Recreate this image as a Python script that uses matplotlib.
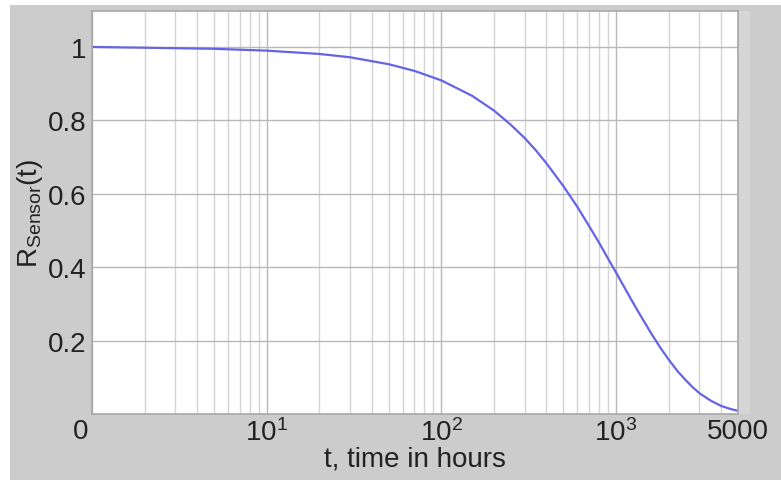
import matplotlib
matplotlib.use('Agg')
import matplotlib.pyplot as plt
import matplotlib.transforms as mtransforms
from matplotlib.patches import Rectangle

plt.rcParams['font.family'] = ['Liberation Sans', 'DejaVu Sans']

# values
t_hours = [1, 2, 5, 10, 20, 30, 50, 70, 100, 150, 200, 250, 300, 350, 400, 500, 600, 700,
           800, 900, 1000, 1100, 1200, 1300, 1400, 1600, 1800, 2000, 2250, 2500, 2750,
           3000, 3500, 4000, 4500, 5000]
r_sensor = [1.0, 0.998, 0.995, 0.990, 0.981, 0.972, 0.953, 0.935, 0.909, 0.867,
            0.827, 0.788, 0.752, 0.717, 0.683, 0.621, 0.565, 0.513, 0.467, 0.424,
            0.386, 0.351, 0.319, 0.290, 0.264, 0.218, 0.180, 0.149, 0.117, 0.093,
            0.073, 0.057, 0.036, 0.022, 0.014, 0.0086]

x_ticks = [1, 10, 100, 1000, 5000]
x_ticklabels = ['0', r'$\mathregular{10^1}$', r'$\mathregular{10^2}$', r'$\mathregular{10^3}$', '5000']
y_ticks = [0.2, 0.4, 0.6, 0.8, 1]
y_ticklabels = ['0.2', '0.4', '0.6', '0.8', '1']

fig = plt.figure(figsize=(7.81, 4.81), dpi=100, facecolor='#cccccc')
# white border strips of the original screenshot
fig.patches.append(Rectangle((0, 0), 10 / 781, 1, transform=fig.transFigure,
                             facecolor='white', edgecolor='none', zorder=0))
fig.patches.append(Rectangle((0, 1 - 6 / 481), 1, 6 / 481, transform=fig.transFigure,
                             facecolor='white', edgecolor='none', zorder=0))
fig.patches.append(Rectangle((738 / 781, 66 / 481), 12 / 781, 403 / 481, transform=fig.transFigure,
                             facecolor='#d6d6d6', edgecolor='none', zorder=0))

ax = fig.add_axes([92 / 781, 66 / 481, 646 / 781, 403 / 481])
ax.set_zorder(2)
ax.plot(t_hours, r_sensor, color='#6464e4', lw=1.6)
ax.set_xscale('log')
ax.set_xlim(1, 5000)
ax.set_ylim(0, 1.098)

ax.set_xticks(x_ticks)
ax.set_xticklabels(x_ticklabels)
ax.set_yticks(y_ticks)
ax.set_yticklabels(y_ticklabels)
ax.tick_params(axis='both', which='both', length=0, labelsize=20, colors='#222222', pad=4)
ax.tick_params(axis='x', pad=3)

# the "0" sits right-aligned under the y labels
zero = ax.get_xticklabels()[0]
zero.set_ha('right')
zero.set_transform(zero.get_transform() +
                   mtransforms.ScaledTranslation(-4 / 100, 0, fig.dpi_scale_trans))

ax.grid(True, which='major', color='#b8b8b8', lw=1.0)
ax.grid(True, which='minor', axis='x', color='#d4d4d4', lw=1.0)
for s in ax.spines.values():
    s.set_color('#a8a8a8')
    s.set_linewidth(1.2)

ax.set_xlabel('t, time in hours', fontsize=20, color='#222222', labelpad=0)
ax.set_ylabel(r'$\mathregular{R_{Sensor}(t)}$', fontsize=20, color='#222222', labelpad=2)

fig.savefig('out.png', dpi=100, facecolor=fig.get_facecolor())
